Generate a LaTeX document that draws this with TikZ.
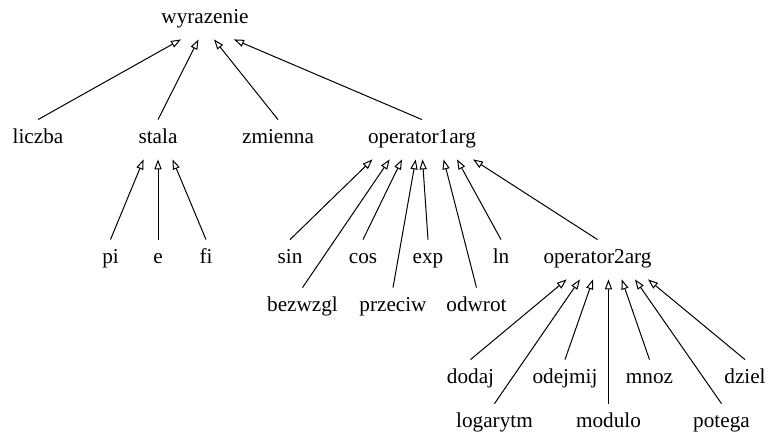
\documentclass[tikz,border=0pt]{standalone}
\usepackage{fontspec}
\setmainfont{Liberation Serif}
\usetikzlibrary{arrows.meta}

\begin{document}
\begin{tikzpicture}[x=0.5pt, y=-0.5pt,
  klasa/.style={anchor=base, inner sep=0pt, text height=12pt, text depth=7.5pt,
    font=\fontsize{10.6pt}{12pt}\selectfont},
  dziedzicz/.style={line width=0.5pt, -{Triangle[open, length=5pt, width=3.6pt]}}]
  \useasboundingbox (0,0) rectangle (767,437);
  % korzen
  \node[klasa] (wyr) at (205,24) {wyrazenie};
  % poziom 1
  \node[klasa] (liczba)  at (38,144)  {liczba};
  \node[klasa] (stala)   at (158,144) {stala};
  \node[klasa] (zmienna) at (278,144) {zmienna};
  \node[klasa] (op1)     at (422,144) {operator1arg};
  % stale
  \node[klasa] (pi) at (110.5,264) {pi};
  \node[klasa] (e)  at (158,264)   {e};
  \node[klasa] (fi) at (206,264)   {fi};
  % operatory jednoargumentowe
  \node[klasa] (sin) at (290,264) {sin};
  \node[klasa] (cos) at (363,264) {cos};
  \node[klasa] (exp) at (428,264) {exp};
  \node[klasa] (ln)  at (501,264) {ln};
  \node[klasa] (op2) at (597.5,264) {operator2arg};
  \node[klasa] (bezwzgl) at (302.5,312) {bezwzgl};
  \node[klasa] (przeciw) at (393,312)   {przeciw};
  \node[klasa] (odwrot)  at (476.5,312) {odwrot};
  % operatory dwuargumentowe
  \node[klasa] (dodaj)   at (470.5,384) {dodaj};
  \node[klasa] (odejmij) at (565,384)   {odejmij};
  \node[klasa] (mnoz)    at (649.5,384) {mnoz};
  \node[klasa] (dziel)   at (745,384)   {dziel};
  \node[klasa] (logarytm) at (494.5,428) {logarytm};
  \node[klasa] (modulo)   at (608.5,428) {modulo};
  \node[klasa] (potega)   at (721.5,428) {potega};
  % dziedziczenie
  \foreach \c/\d in {liczba/-12, stala/-3.25, zmienna/4.5, op1/14.5}
    \draw[dziedzicz] (\c.north) -- ([xshift=\d pt]wyr.south);
  \foreach \c/\d in {pi/-7.2, e/0, fi/7.25}
    \draw[dziedzicz] (\c.north) -- ([xshift=\d pt]stala.south);
  \foreach \c/\d in {sin/-24.75, bezwzgl/-16.15, cos/-10, przeciw/-3.15,
                     exp/0.25, odwrot/10.8, ln/17.5, op2/25.5}
    \draw[dziedzicz] (\c.north) -- ([xshift=\d pt]op1.south);
  \foreach \c/\d in {dodaj/-15.4, logarytm/-8.75, odejmij/-2.25, modulo/5.5,
                     mnoz/12.1, potega/18.75, dziel/25.25}
    \draw[dziedzicz] (\c.north) -- ([xshift=\d pt]op2.south);
\end{tikzpicture}
\end{document}
